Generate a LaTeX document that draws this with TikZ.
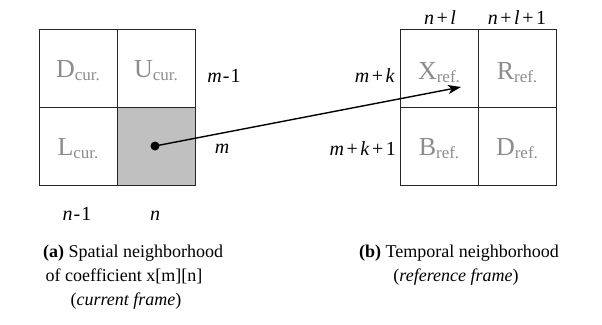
\documentclass[tikz,border=0pt]{standalone}
\usepackage{fontspec}
\setmainfont{Liberation Serif}
\usetikzlibrary{arrows.meta}
\definecolor{celltext}{HTML}{8C8C8C}
\definecolor{shade}{HTML}{C0C0C0}
\tikzset{
  cell/.style={draw=black!85, line width=0.9pt, minimum size=78pt, inner sep=0pt, outer sep=0pt},
  celllbl/.style={anchor=base, text=celltext, font=\fontsize{26}{26}\selectfont, inner sep=0pt},
  idx/.style={anchor=base, font=\fontsize{20}{20}\selectfont, inner sep=0pt},
  capline/.style={anchor=base, font=\fontsize{18}{18}\selectfont, inner sep=0pt},
  link/.style={line width=1.4pt, -{Stealth[length=13pt,width=9pt,inset=3.5pt]}}
}
\newcommand{\sbs}[1]{\raisebox{-3pt}{\fontsize{17}{17}\selectfont #1}}
\newcommand{\pl}{\hspace{2.5pt}+\hspace{2.5pt}}
\newcommand{\mn}{\kern1pt-\kern1pt}
\begin{document}
\begin{tikzpicture}[x=1pt,y=-1pt]
\useasboundingbox (0,0) rectangle (602,324);
% left grid
\node[cell] (Dc) at (78,68) {};
\node[cell] (Uc) at (156,68) {};
\node[cell] (Lc) at (78,146) {};
\node[cell, fill=shade] (Sc) at (156,146) {};
\node[celllbl] (tDc) at (78,77) {D\sbs{cur.}};
\node[celllbl] (tUc) at (156,77) {U\sbs{cur.}};
\node[celllbl] (tLc) at (78,155) {L\sbs{cur.}};
% right grid
\node[cell] (Xr) at (439,68) {};
\node[cell] (Rr) at (517,68) {};
\node[cell] (Br) at (439,146) {};
\node[cell] (Dr) at (517,146) {};
\node[celllbl] (tXr) at (439,79) {X\sbs{ref.}};
\node[celllbl] (tRr) at (517,79) {R\sbs{ref.}};
\node[celllbl] (tBr) at (439,155) {B\sbs{ref.}};
\node[celllbl] (tDr) at (517,155) {D\sbs{ref.}};
% indices
\node[idx] (im1) at (224,82) {\textit{m}\mn 1};
\node[idx] (im) at (222,153) {\textit{m}};
\node[idx] (in1) at (77,220) {\textit{n}\mn 1};
\node[idx] (in) at (155,220) {\textit{n}};
\node[idx] (inl) at (440,24) {\textit{n}\pl\textit{l}};
\node[idx] (inl1) at (517,24) {\textit{n}\pl\textit{l}\pl 1};
\node[idx, anchor=base east] (imk) at (395,82) {\textit{m}\pl\textit{k}};
\node[idx, anchor=base east] (imk1) at (396,155) {\textit{m}\pl\textit{k}\pl 1};
% arrow
\node[circle, fill=black, inner sep=0pt, minimum size=9pt] (dot) at (155,146) {};
\coordinate (tgt) at (461,87);
\draw[link] (dot.center) -- (tgt);
% captions
\node[capline] (capa1) at (133,257) {\textbf{(a)} Spatial neighborhood};
\node[capline] (capa2) at (124,281) {of coefficient x[m][n]};
\node[capline] (capa3) at (126,305) {(\textit{current frame})};
\node[capline] (capb1) at (459,257) {\textbf{(b)} Temporal neighborhood};
\node[capline] (capb2) at (456,281) {(\textit{reference frame})};
\end{tikzpicture}
\end{document}
